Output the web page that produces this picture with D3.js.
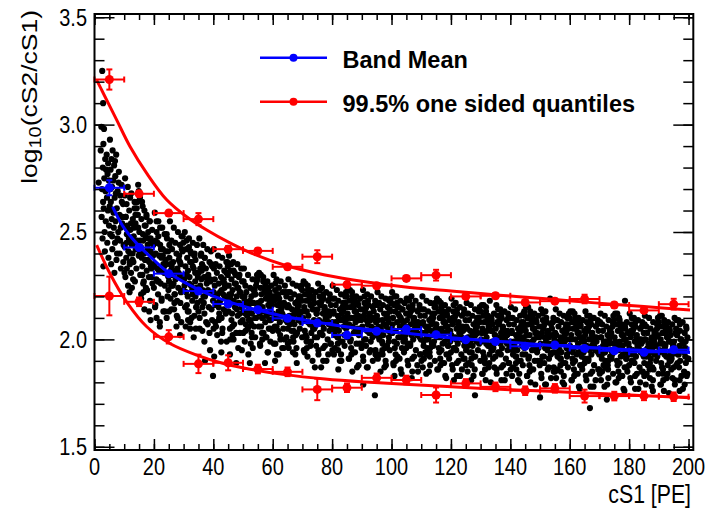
<!DOCTYPE html>
<html><head><meta charset="utf-8">
<script src="https://cdn.jsdelivr.net/npm/d3@7"></script>
<style>body{margin:0;background:#fff}svg{display:block}</style>
</head><body>
<svg id="chart" width="715" height="513"></svg>
<script>
// Bin centres in cS1 [PE] (each bin is 10 PE wide)
const binCenters = [5,15,25,35,45,55,65,75,85,95,105,115,125,135,145,155,165,175,185,195];
const binHalfWidth = 5;
// Band mean of log10(cS2/cS1) per bin
const meanValues = [2.706,2.428,2.306,2.225,2.165,2.138,2.098,2.076,2.020,2.038,2.048,2.022,1.998,1.990,1.968,1.974,1.958,1.947,1.940,1.952];
const meanErrors = [0.035,0.012,0.01,0.01,0.01,0.008,0.008,0.008,0.008,0.008,0.008,0.008,0.008,0.008,0.008,0.008,0.008,0.008,0.008,0.008];
// 99.5% one sided quantiles
const upperValues = [3.210,2.678,2.588,2.560,2.420,2.412,2.338,2.385,2.255,2.250,2.284,2.299,2.200,2.203,2.172,2.178,2.188,2.160,2.135,2.164];
const upperErrors = [0.047,0.012,0.012,0.028,0.015,0.012,0.012,0.03,0.012,0.012,0.012,0.025,0.012,0.012,0.012,0.012,0.02,0.012,0.012,0.025];
const lowerValues = [2.202,2.175,2.012,1.886,1.891,1.862,1.849,1.767,1.775,1.821,1.811,1.741,1.795,1.779,1.761,1.772,1.736,1.736,1.737,1.733];
const lowerErrors = [0.09,0.02,0.031,0.043,0.035,0.02,0.02,0.05,0.02,0.02,0.02,0.035,0.02,0.02,0.02,0.02,0.03,0.02,0.02,0.02];
// Fitted curves, sampled along cS1
const upperFit = [[0.74,3.207],[3.0,3.145],[7.5,3.021],[12.0,2.897],[17.6,2.773],[24.3,2.650],[31.0,2.571],[37.8,2.509],[45.6,2.449],[52.4,2.404],[64.1,2.345],[77.6,2.300],[91.1,2.268],[104,2.245],[120,2.225],[136.5,2.206],[153,2.188],[168.5,2.170],[185,2.153],[200.5,2.137]];
const lowerFit = [[0.74,2.439],[5.2,2.307],[10.8,2.175],[17.6,2.059],[25.4,1.981],[34.4,1.927],[43.4,1.888],[52.4,1.861],[64.1,1.836],[77.6,1.816],[91.1,1.802],[104.5,1.791],[120,1.780],[136.5,1.768],[153,1.758],[170,1.748],[185,1.738],[200.5,1.728]];
const meanFit = [[6.1,2.617],[9.7,2.524],[14.2,2.447],[19.8,2.372],[25,2.31],[35,2.232],[45,2.176],[55,2.137],[65,2.104],[77.6,2.074],[91,2.048],[104,2.030],[120,2.008],[136.5,1.990],[153,1.973],[168.5,1.961],[185,1.948],[200.5,1.939]];
// Events: [cS1, log10(cS2/cS1)]
const events = [
[2.6,3.25],[2.9,3.10],[2.3,2.99],[3.2,2.98],[3.0,2.91],[2.1,2.88],[4.1,2.86],[3.6,2.84],[4.6,2.82],[2.8,2.80],[3.9,2.79],[4.4,2.77],[3.3,2.75],[1.4,2.73],[4.8,2.74],[2.5,2.70],[3.7,2.69],[4.2,2.66],[2.9,2.64],[3.1,2.61],[4.5,2.60],[2.4,2.57],[3.8,2.55],[4.9,2.53],[3.4,2.50],[2.7,2.47],[4.3,2.45],[3.5,2.41],[4.7,2.38],[3.0,2.34],
[5.2,2.93],[6.1,2.88],[5.7,2.84],[7.3,2.86],[6.6,2.81],[5.4,2.79],[8.2,2.78],[7.0,2.76],[6.3,2.74],[9.1,2.72],[5.9,2.71],[7.8,2.69],[8.7,2.67],[6.8,2.66],[5.5,2.64],[9.6,2.63],[7.5,2.61],[6.2,2.60],[8.4,2.58],[5.8,2.56],[7.1,2.55],[9.3,2.54],[6.5,2.52],[8.0,2.50],[5.3,2.49],[7.7,2.47],[6.9,2.45],[9.8,2.44],[6.0,2.42],[8.5,2.40],[7.4,2.37],[5.6,2.35],[8.9,2.33],[6.7,2.31],[9.4,2.57],
[5.4,2.70],[8.8,2.52],[6.9,2.83],[7.6,2.40],[9.2,2.64],[5.9,2.48],[8.1,2.73],[6.4,2.59],[9.7,2.36],[7.2,2.68],[5.1,2.62],[8.6,2.46],
[10.3,2.75],[11.2,2.71],[10.8,2.63],[12.4,2.68],[13.5,2.64],[11.7,2.60],[14.2,2.61],[10.5,2.57],[12.9,2.56],[13.8,2.54],[11.0,2.53],[14.7,2.52],[12.1,2.51],[10.9,2.49],[13.2,2.48],[11.6,2.47],[14.4,2.46],[12.6,2.44],[10.2,2.43],[13.9,2.42],[11.4,2.41],[12.8,2.40],[14.9,2.39],[10.7,2.38],[13.1,2.36],[11.9,2.35],[14.1,2.33],[12.3,2.31],[10.4,2.29],[13.6,2.27],[11.3,2.25],[14.6,2.58],[12.0,2.66],[13.3,2.45],[11.8,2.22],
[10.2,2.67],[14.1,2.42],[12.3,2.54],[10.9,2.33],[13.5,2.61],[11.6,2.46],[14.7,2.72],[12.8,2.37],[10.5,2.57],[13.0,2.28],[11.2,2.51],[14.4,2.64],[12.0,2.40],[13.8,2.58],[10.8,2.45],[12.6,2.24],[14.9,2.69],[11.9,2.36],[13.3,2.52],[10.1,2.31],
[15.3,2.66],[16.2,2.62],[17.5,2.58],[15.8,2.56],[18.6,2.55],[16.9,2.53],[19.4,2.51],[15.1,2.50],[17.2,2.48],[18.1,2.47],[16.4,2.46],[19.0,2.45],[15.6,2.43],[17.8,2.42],[18.9,2.41],[16.7,2.40],[19.7,2.39],[15.9,2.38],[17.0,2.37],[18.4,2.36],[16.1,2.34],[19.2,2.33],[17.6,2.32],[15.4,2.30],[18.3,2.29],[16.6,2.27],[19.5,2.26],[17.3,2.24],[15.7,2.21],[18.7,2.18],[16.8,2.14],[18.9,2.09],[17.9,2.44],[16.3,2.49],[19.8,2.35],
[16.1,2.30],[18.6,2.55],[15.4,2.46],[17.7,2.23],[19.5,2.39],[16.8,2.60],[18.1,2.50],[15.7,2.19],[19.0,2.34],[17.2,2.53],[19.8,2.44],[16.4,2.26],[18.4,2.13],[15.3,2.40],[17.5,2.57],[19.2,2.29],[16.0,2.64],[18.9,2.47],[17.9,2.37],[16.5,2.22],
[20.3,2.59],[21.5,2.55],[22.8,2.52],[20.9,2.50],[23.6,2.49],[24.4,2.47],[21.2,2.45],[22.1,2.44],[23.0,2.42],[24.8,2.41],[20.6,2.40],[21.8,2.39],[22.5,2.38],[23.9,2.37],[24.1,2.35],[20.2,2.34],[21.1,2.33],[22.9,2.32],[23.4,2.31],[24.6,2.30],[20.8,2.28],[21.6,2.27],[22.3,2.26],[23.7,2.25],[24.9,2.23],[21.4,2.21],[22.6,2.19],[20.5,2.16],[23.2,2.13],[24.3,2.10],[20.9,2.10],[22.0,2.06],
[23.2,2.35],[20.6,2.46],[24.6,2.20],[22.1,2.52],[21.3,2.27],[23.7,2.13],[20.0,2.24],[22.4,2.42],[24.3,2.49],[21.7,2.32],[23.0,2.39],[20.9,2.55],[24.9,2.29],[22.6,2.18],[21.1,2.45],[23.5,2.34],[20.4,2.15],[24.0,2.41],[22.0,2.08],[21.5,2.48],
[25.4,2.55],[26.7,2.52],[28.1,2.50],[29.3,2.48],[25.9,2.46],[27.2,2.45],[28.8,2.44],[26.1,2.42],[29.7,2.41],[27.6,2.40],[25.2,2.38],[28.4,2.37],[26.5,2.36],[29.0,2.35],[27.9,2.33],[25.7,2.32],[26.9,2.31],[28.6,2.30],[29.5,2.29],[27.3,2.28],[25.1,2.27],[26.3,2.25],[28.2,2.24],[29.9,2.23],[27.0,2.21],[25.6,2.19],[28.9,2.17],[26.8,2.14],[27.7,2.11],[29.2,2.08],[28.8,2.02],[26.0,2.34],
[25.2,2.44],[29.1,2.22],[27.3,2.32],[25.9,2.14],[28.5,2.39],[26.6,2.26],[29.7,2.48],[27.8,2.18],[25.5,2.35],[28.0,2.10],[26.2,2.30],[29.4,2.42],[27.0,2.21],[28.8,2.36],[25.8,2.25],[27.6,2.06],[29.9,2.45],[26.9,2.17],[28.3,2.31],[25.1,2.13],
[30.4,2.50],[31.8,2.47],[33.1,2.45],[34.5,2.44],[30.9,2.42],[32.3,2.41],[33.7,2.40],[31.2,2.38],[34.0,2.37],[32.7,2.36],[30.6,2.34],[33.4,2.33],[31.5,2.32],[34.8,2.31],[32.0,2.29],[30.2,2.28],[33.9,2.27],[31.9,2.26],[32.5,2.25],[34.3,2.24],[30.8,2.22],[33.0,2.21],[31.4,2.20],[32.9,2.18],[34.6,2.17],[30.5,2.15],[31.7,2.13],[33.6,2.11],[32.2,2.08],[34.1,2.05],[32.2,2.05],[31.0,2.30],
[31.1,2.16],[33.6,2.39],[30.4,2.30],[32.7,2.10],[34.5,2.24],[31.8,2.43],[33.1,2.34],[30.7,2.06],[34.0,2.20],[32.2,2.36],[34.8,2.29],[31.4,2.13],[33.4,2.01],[30.3,2.25],[32.5,2.40],[34.2,2.15],[31.0,2.46],[33.9,2.31],[32.9,2.23],[31.5,2.09],
[35.3,2.47],[36.6,2.44],[38.0,2.42],[39.2,2.41],[35.8,2.39],[37.1,2.38],[38.7,2.36],[36.2,2.35],[39.6,2.34],[37.5,2.33],[35.1,2.31],[38.3,2.30],[36.9,2.29],[39.0,2.27],[37.8,2.26],[35.6,2.25],[36.4,2.23],[38.9,2.22],[39.8,2.21],[37.2,2.20],[35.9,2.18],[36.8,2.17],[38.5,2.15],[39.4,2.14],[37.0,2.12],[35.4,2.10],[38.1,2.07],[36.3,2.04],[38.9,1.95],[37.2,1.90],[39.9,1.83],[36.0,2.28],
[38.2,2.23],[35.6,2.33],[39.6,2.09],[37.1,2.38],[36.3,2.15],[38.7,2.03],[35.0,2.13],[37.4,2.29],[39.3,2.35],[36.7,2.20],[38.0,2.27],[35.9,2.40],[39.9,2.18],[37.6,2.08],[36.1,2.32],[38.5,2.22],[35.4,2.05],[39.0,2.28],[37.0,1.99],[36.5,2.34],
[40.2,2.42],[41.6,2.39],[43.0,2.38],[44.4,2.36],[40.8,2.35],[42.1,2.34],[43.7,2.32],[41.2,2.31],[44.9,2.30],[42.6,2.29],[40.5,2.28],[43.3,2.27],[41.9,2.26],[44.1,2.25],[42.8,2.23],[40.1,2.22],[41.4,2.21],[43.9,2.20],[44.7,2.19],[42.3,2.18],[40.9,2.16],[41.8,2.15],[43.5,2.14],[44.2,2.12],[42.0,2.10],[40.6,2.08],[43.1,2.05],[41.3,2.02],[44.5,1.99],[42.7,1.94],[40.3,1.92],[43.8,2.24],
[40.2,2.33],[44.1,2.13],[42.3,2.22],[40.9,2.06],[43.5,2.28],[41.6,2.17],[44.7,2.36],[42.8,2.10],[40.5,2.25],[43.0,2.03],[41.2,2.20],[44.4,2.31],[42.0,2.12],[43.8,2.26],[40.8,2.16],[42.6,1.99],[44.9,2.34],[41.9,2.09],[43.3,2.21],[40.1,2.05],
[45.3,2.39],[46.7,2.36],[48.1,2.35],[49.4,2.33],[45.8,2.32],[47.2,2.31],[48.8,2.30],[46.1,2.28],[49.7,2.27],[47.6,2.26],[45.2,2.25],[48.4,2.24],[46.5,2.23],[49.0,2.22],[47.9,2.20],[45.7,2.19],[46.9,2.18],[48.6,2.17],[49.5,2.16],[47.3,2.15],[45.1,2.13],[46.3,2.12],[48.2,2.11],[49.9,2.09],[47.0,2.07],[45.6,2.05],[48.9,2.03],[46.8,2.00],[45.6,1.93],[49.6,1.95],[47.7,1.89],[46.0,2.21],
[46.1,2.09],[48.6,2.29],[45.4,2.21],[47.7,2.03],[49.5,2.15],[46.8,2.32],[48.1,2.24],[45.7,2.00],[49.0,2.12],[47.2,2.26],[49.8,2.20],[46.4,2.06],[48.4,1.96],[45.3,2.17],[47.5,2.30],[49.2,2.08],[46.0,2.35],[48.9,2.22],[47.9,2.14],[46.5,2.02],
[50.3,2.33],[51.7,2.30],[53.2,2.28],[54.6,2.27],[50.8,2.25],[52.4,2.24],[53.9,2.23],[51.1,2.22],[54.2,2.21],[52.8,2.20],[50.5,2.18],[53.5,2.17],[51.9,2.16],[54.8,2.15],[52.1,2.14],[50.2,2.13],[53.0,2.12],[51.4,2.11],[54.4,2.10],[52.6,2.09],[50.9,2.07],[53.7,2.06],[51.6,2.05],[52.9,2.03],[54.1,2.01],[50.6,1.99],[53.3,1.96],[51.8,1.93],[52.3,1.89],
[50.2,2.27],[54.1,2.10],[52.3,2.18],[50.9,2.04],[53.5,2.23],[51.6,2.13],[54.7,2.30],[52.8,2.07],[50.5,2.20],[53.0,2.01],[51.2,2.16],[54.4,2.25],[52.0,2.09],[53.8,2.21],[50.8,2.12],[52.6,1.98],[54.9,2.28],[51.9,2.06],[53.3,2.17],[50.1,2.03],
[55.4,2.31],[56.8,2.29],[58.2,2.27],[59.5,2.25],[55.9,2.24],[57.3,2.23],[58.9,2.22],[56.2,2.21],[59.8,2.20],[57.7,2.19],[55.1,2.17],[58.5,2.16],[56.6,2.15],[59.1,2.14],[57.0,2.13],[55.6,2.12],[58.0,2.11],[56.4,2.10],[59.4,2.09],[57.5,2.08],[55.3,2.06],[58.7,2.05],[56.9,2.03],[57.9,2.01],[59.2,1.99],[55.8,1.97],[58.3,1.94],[57.4,1.89],[56.1,2.18],
[56.1,2.06],[58.6,2.24],[55.4,2.17],[57.7,2.01],[59.5,2.12],[56.8,2.27],[58.1,2.20],[55.7,1.98],[59.0,2.09],[57.2,2.22],[59.8,2.16],[56.4,2.03],[58.4,1.94],[55.3,2.13],[57.5,2.25],[59.2,2.05],[56.0,2.30],[58.9,2.18],[57.9,2.11],[56.5,2.00],
[60.3,2.30],[61.3,2.28],[62.7,2.27],[64.1,2.25],[60.8,2.23],[63.4,2.22],[61.9,2.21],[64.6,2.20],[62.2,2.19],[60.5,2.18],[63.8,2.17],[61.6,2.16],[64.9,2.15],[62.9,2.14],[60.1,2.12],[63.1,2.11],[61.0,2.10],[64.3,2.09],[62.4,2.08],[60.7,2.06],[63.6,2.05],[61.8,2.04],[62.5,2.02],[64.0,2.00],[60.9,1.98],[63.2,1.96],[61.4,1.93],[60.8,1.90],[62.0,2.13],
[63.2,2.12],[60.6,2.20],[64.6,2.01],[62.1,2.24],[61.3,2.06],[63.7,1.96],[60.0,2.04],[62.4,2.17],[64.3,2.22],[61.7,2.10],[63.0,2.15],[60.9,2.26],[64.9,2.08],[62.6,2.00],[61.1,2.19],[63.5,2.11],[60.4,1.98],[64.0,2.16],[62.0,1.93],[61.5,2.21],
[65.3,2.28],[66.7,2.26],[68.0,2.25],[69.4,2.24],[65.8,2.22],[67.2,2.21],[68.7,2.20],[66.1,2.19],[69.8,2.18],[67.6,2.17],[65.2,2.16],[68.4,2.15],[66.5,2.14],[69.1,2.13],[67.9,2.12],[65.6,2.11],[66.9,2.10],[68.6,2.09],[69.6,2.08],[67.3,2.07],[65.1,2.05],[66.3,2.04],[68.2,2.03],[69.9,2.01],[67.0,1.99],[65.4,1.96],[68.1,1.89],[66.8,1.94],[69.2,2.11],
[65.2,2.22],[69.1,2.05],[67.3,2.13],[65.9,1.99],[68.5,2.18],[66.6,2.08],[69.7,2.25],[67.8,2.02],[65.5,2.15],[68.0,1.96],[66.2,2.11],[69.4,2.20],[67.0,2.04],[68.8,2.16],[65.8,2.07],[67.6,1.93],[69.9,2.23],[66.9,2.01],[68.3,2.12],[65.1,1.98],
[70.4,2.27],[71.8,2.25],[73.1,2.23],[74.5,2.22],[70.9,2.21],[72.3,2.20],[73.7,2.19],[71.2,2.18],[74.0,2.17],[72.7,2.16],[70.6,2.15],[73.4,2.14],[71.5,2.13],[74.8,2.12],[72.0,2.11],[70.2,2.10],[73.9,2.09],[71.9,2.08],[72.5,2.07],[74.3,2.06],[70.8,2.04],[73.0,2.03],[71.4,2.01],[72.9,1.99],[74.6,1.97],[70.5,1.95],[71.7,1.92],[74.2,1.87],[73.6,2.05],
[71.1,2.02],[73.6,2.20],[70.4,2.13],[72.7,1.97],[74.5,2.08],[71.8,2.23],[73.1,2.16],[70.7,1.94],[74.0,2.05],[72.2,2.18],[74.8,2.12],[71.4,1.99],[73.4,1.90],[70.3,2.09],[72.5,2.21],[74.2,2.01],[71.0,2.26],[73.9,2.14],[72.9,2.07],[71.5,1.96],
[75.3,2.26],[76.6,2.24],[78.0,2.22],[79.2,2.21],[75.8,2.20],[77.1,2.19],[78.7,2.18],[76.2,2.17],[79.6,2.16],[77.5,2.15],[75.1,2.14],[78.3,2.13],[76.9,2.12],[79.0,2.11],[77.8,2.10],[75.6,2.09],[76.4,2.08],[78.9,2.07],[79.8,2.06],[77.2,2.05],[75.9,2.03],[76.8,2.02],[78.5,2.00],[79.4,1.98],[77.0,1.96],[75.4,1.93],[78.1,1.90],[76.3,1.87],[79.1,2.04],
[78.2,2.09],[75.6,2.17],[79.6,1.98],[77.1,2.21],[76.3,2.03],[78.7,1.93],[75.0,2.01],[77.4,2.14],[79.3,2.19],[76.7,2.07],[78.0,2.12],[75.9,2.23],[79.9,2.05],[77.6,1.97],[76.1,2.16],[78.5,2.08],[75.4,1.95],[79.0,2.13],[77.0,1.90],[76.5,2.18],
[80.2,2.25],[81.6,2.23],[83.0,2.21],[84.4,2.20],[80.8,2.19],[82.1,2.18],[83.7,2.17],[81.2,2.16],[84.9,2.15],[82.6,2.14],[80.5,2.13],[83.3,2.12],[81.9,2.11],[84.1,2.10],[82.8,2.09],[80.1,2.08],[81.4,2.07],[83.9,2.06],[84.7,2.05],[82.3,2.04],[80.9,2.02],[81.8,2.01],[83.5,1.99],[84.2,1.97],[82.0,1.95],[80.6,1.93],[83.1,1.90],[82.1,1.86],[84.5,2.08],
[80.2,2.19],[84.1,2.02],[82.3,2.10],[80.9,1.96],[83.5,2.15],[81.6,2.05],[84.7,2.22],[82.8,1.99],[80.5,2.12],[83.0,1.93],[81.2,2.08],[84.4,2.17],[82.0,2.01],[83.8,2.13],[80.8,2.04],[82.6,1.90],[84.9,2.20],[81.9,1.98],[83.3,2.09],[80.1,1.95],
[85.3,2.24],[86.7,2.22],[88.1,2.20],[89.4,2.19],[85.8,2.18],[87.2,2.17],[88.8,2.16],[86.1,2.15],[89.7,2.14],[87.6,2.13],[85.2,2.12],[88.4,2.11],[86.5,2.10],[89.0,2.09],[87.9,2.08],[85.7,2.07],[86.9,2.06],[88.6,2.05],[89.5,2.04],[87.3,2.03],[85.1,2.01],[86.3,2.00],[88.2,1.98],[89.9,1.96],[87.0,1.94],[85.6,1.91],[88.9,1.88],[86.8,1.85],[87.4,2.10],
[86.1,1.99],[88.6,2.17],[85.4,2.10],[87.7,1.94],[89.5,2.05],[86.8,2.20],[88.1,2.13],[85.7,1.91],[89.0,2.02],[87.2,2.15],[89.8,2.09],[86.4,1.96],[88.4,1.87],[85.3,2.06],[87.5,2.18],[89.2,1.98],[86.0,2.23],[88.9,2.11],[87.9,2.04],[86.5,1.93],
[90.4,2.23],[91.8,2.21],[93.1,2.20],[94.5,2.18],[90.9,2.17],[92.3,2.16],[93.7,2.15],[91.2,2.14],[94.0,2.13],[92.7,2.12],[90.6,2.11],[93.4,2.10],[91.5,2.09],[94.8,2.08],[92.0,2.07],[90.2,2.06],[93.9,2.05],[91.9,2.04],[92.5,2.03],[94.3,2.02],[90.8,2.00],[93.0,1.99],[91.4,1.97],[92.9,1.95],[94.6,1.93],[90.5,1.90],[91.7,1.87],[94.4,1.74],[90.5,1.79],[93.6,2.01],
[93.2,2.06],[90.6,2.14],[94.6,1.95],[92.1,2.18],[91.3,2.00],[93.7,1.90],[90.0,1.98],[92.4,2.11],[94.3,2.16],[91.7,2.04],[93.0,2.09],[90.9,2.20],[94.9,2.02],[92.6,1.94],[91.1,2.13],[93.5,2.05],[90.4,1.92],[94.0,2.10],[92.0,1.87],[91.5,2.15],
[95.3,2.22],[96.6,2.20],[98.0,2.19],[99.2,2.18],[95.8,2.17],[97.1,2.16],[98.7,2.15],[96.2,2.14],[99.6,2.13],[97.5,2.12],[95.1,2.11],[98.3,2.10],[96.9,2.09],[99.0,2.08],[97.8,2.07],[95.6,2.06],[96.4,2.05],[98.9,2.04],[99.8,2.03],[97.2,2.02],[95.9,2.00],[96.8,1.99],[98.5,1.97],[99.4,1.95],[97.0,1.93],[95.4,1.91],[98.1,1.88],[96.3,1.85],[99.1,2.01],
[95.2,2.16],[99.1,1.99],[97.3,2.07],[95.9,1.93],[98.5,2.12],[96.6,2.02],[99.7,2.19],[97.8,1.96],[95.5,2.09],[98.0,1.90],[96.2,2.05],[99.4,2.14],[97.0,1.98],[98.8,2.10],[95.8,2.01],[97.6,1.87],[99.9,2.17],[96.9,1.95],[98.3,2.06],[95.1,1.92],
[100.2,2.22],[101.6,2.20],[103.0,2.18],[104.4,2.17],[100.8,2.16],[102.1,2.15],[103.7,2.14],[101.2,2.13],[104.9,2.12],[102.6,2.11],[100.5,2.10],[103.3,2.09],[101.9,2.08],[104.1,2.07],[102.8,2.06],[100.1,2.05],[101.4,2.04],[103.9,2.03],[104.7,2.02],[102.3,2.01],[100.9,1.99],[101.8,1.98],[103.5,1.96],[104.2,1.94],[102.0,1.92],[100.6,1.89],[103.1,1.86],[101.0,1.83],[104.5,2.00],
[101.1,1.96],[103.6,2.14],[100.4,2.07],[102.7,1.91],[104.5,2.02],[101.8,2.17],[103.1,2.10],[100.7,1.88],[104.0,1.99],[102.2,2.12],[104.8,2.06],[101.4,1.93],[103.4,1.84],[100.3,2.03],[102.5,2.15],[104.2,1.95],[101.0,2.20],[103.9,2.08],[102.9,2.01],[101.5,1.90],
[105.1,2.19],[106.7,2.20],[108.1,2.18],[109.4,2.16],[105.8,2.15],[107.2,2.14],[108.8,2.13],[106.1,2.12],[109.7,2.11],[107.6,2.10],[105.2,2.09],[108.4,2.08],[106.5,2.07],[109.0,2.06],[107.9,2.05],[105.7,2.04],[106.9,2.03],[108.6,2.02],[109.5,2.01],[107.3,2.00],[105.4,1.98],[106.3,1.97],[108.2,1.95],[109.9,1.93],[107.0,1.91],[105.6,1.88],[108.9,1.85],[106.8,1.82],[107.4,2.04],
[108.2,2.04],[105.6,2.12],[109.6,1.93],[107.1,2.16],[106.3,1.98],[108.7,1.88],[105.0,1.96],[107.4,2.09],[109.3,2.14],[106.7,2.02],[108.0,2.07],[105.9,2.18],[109.9,2.00],[107.6,1.92],[106.1,2.11],[108.5,2.03],[105.4,1.90],[109.0,2.08],[107.0,1.85],[106.5,2.13],
[110.4,2.20],[111.8,2.18],[113.1,2.17],[114.5,2.15],[110.9,2.14],[112.3,2.13],[113.7,2.12],[111.2,2.11],[114.0,2.10],[112.7,2.09],[110.6,2.08],[113.4,2.07],[111.5,2.06],[114.8,2.05],[112.0,2.04],[110.2,2.03],[113.9,2.02],[111.9,2.01],[112.5,2.00],[114.3,1.99],[110.8,1.97],[113.0,1.96],[111.4,1.94],[112.9,1.92],[114.6,1.90],[110.5,1.87],[111.7,1.84],[113.6,1.98],[112.2,2.06],
[110.2,2.14],[114.1,1.97],[112.3,2.05],[110.9,1.91],[113.5,2.10],[111.6,2.00],[114.7,2.17],[112.8,1.94],[110.5,2.07],[113.0,1.88],[111.2,2.03],[114.4,2.12],[112.0,1.96],[113.8,2.08],[110.8,1.99],[112.6,1.85],[114.9,2.15],[111.9,1.93],[113.3,2.04],[110.1,1.90],
[115.3,2.19],[116.6,2.17],[118.0,2.16],[119.2,2.14],[115.8,2.13],[117.1,2.12],[118.7,2.11],[116.2,2.10],[119.6,2.09],[117.5,2.08],[115.1,2.07],[118.3,2.06],[116.9,2.05],[119.0,2.04],[117.8,2.03],[115.6,2.02],[116.4,2.01],[118.9,2.00],[119.8,1.99],[117.2,1.98],[115.9,1.96],[116.8,1.95],[118.5,1.93],[119.4,1.91],[117.0,1.89],[115.4,1.86],[118.1,1.83],[116.3,2.03],[119.1,1.97],
[116.1,1.94],[118.6,2.12],[115.4,2.05],[117.7,1.89],[119.5,2.00],[116.8,2.15],[118.1,2.08],[115.7,1.86],[119.0,1.97],[117.2,2.10],[119.8,2.04],[116.4,1.91],[118.4,1.82],[115.3,2.01],[117.5,2.13],[119.2,1.93],[116.0,2.18],[118.9,2.06],[117.9,1.99],[116.5,1.88],
[120.2,2.19],[121.6,2.17],[123.0,2.15],[124.4,2.14],[120.8,2.13],[122.1,2.12],[123.7,2.11],[121.2,2.10],[124.9,2.09],[122.6,2.08],[120.5,2.07],[123.3,2.06],[121.9,2.05],[124.1,2.04],[122.8,2.03],[120.1,2.02],[121.4,2.01],[123.9,2.00],[124.7,1.99],[122.3,1.98],[120.9,1.96],[121.8,1.95],[123.5,1.93],[124.2,1.91],[122.0,1.89],[120.6,1.86],[123.1,1.83],[121.0,1.81],[124.5,1.97],
[123.2,2.02],[120.6,2.10],[124.6,1.91],[122.1,2.14],[121.3,1.96],[123.7,1.86],[120.0,1.94],[122.4,2.07],[124.3,2.12],[121.7,2.00],[123.0,2.05],[120.9,2.16],[124.9,1.98],[122.6,1.90],[121.1,2.09],[123.5,2.01],[120.4,1.88],[124.0,2.06],[122.0,1.83],[121.5,2.11],
[125.3,2.17],[126.7,2.16],[128.1,2.14],[129.4,2.13],[125.8,2.12],[127.2,2.11],[128.8,2.10],[126.1,2.09],[129.7,2.08],[127.6,2.07],[125.2,2.06],[128.4,2.05],[126.5,2.04],[129.0,2.03],[127.9,2.02],[125.7,2.01],[126.9,2.00],[128.6,1.99],[129.5,1.98],[127.3,1.97],[125.1,1.95],[126.3,1.94],[128.2,1.92],[129.9,1.90],[127.0,1.88],[125.6,1.85],[128.1,1.74],[126.8,1.81],[127.4,2.03],
[125.2,2.12],[129.1,1.95],[127.3,2.03],[125.9,1.89],[128.5,2.08],[126.6,1.98],[129.7,2.15],[127.8,1.92],[125.5,2.05],[128.0,1.86],[126.2,2.01],[129.4,2.10],[127.0,1.94],[128.8,2.06],[125.8,1.97],[127.6,1.83],[129.9,2.13],[126.9,1.91],[128.3,2.02],[125.1,1.88],
[130.4,2.16],[131.8,2.15],[133.1,2.18],[134.5,2.12],[130.9,2.11],[132.3,2.10],[133.7,2.09],[131.2,2.08],[134.0,2.07],[132.7,2.06],[130.6,2.05],[133.4,2.04],[131.5,2.03],[134.8,2.02],[132.0,2.01],[130.2,2.00],[133.9,1.99],[131.9,1.98],[132.5,1.97],[134.3,1.96],[130.8,1.94],[133.0,1.93],[131.4,1.91],[132.9,1.89],[134.6,1.87],[130.5,1.84],[131.7,1.81],[133.6,1.95],[132.2,2.04],
[131.1,1.92],[133.6,2.10],[130.4,2.03],[132.7,1.87],[134.5,1.98],[131.8,2.13],[133.1,2.06],[130.7,1.84],[134.0,1.95],[132.2,2.08],[134.8,2.02],[131.4,1.89],[133.4,1.80],[130.3,1.99],[132.5,2.11],[134.2,1.91],[131.0,2.16],[133.9,2.04],[132.9,1.97],[131.5,1.86],
[135.3,2.16],[136.6,2.14],[138.0,2.13],[139.2,2.12],[135.8,2.11],[137.1,2.10],[138.7,2.09],[136.2,2.08],[139.6,2.07],[137.5,2.06],[135.1,2.05],[138.3,2.04],[136.9,2.03],[139.0,2.02],[137.8,2.01],[135.6,2.00],[136.4,1.99],[138.9,1.98],[139.8,1.97],[137.2,1.96],[135.9,1.94],[136.8,1.93],[138.5,1.91],[139.4,1.89],[137.0,1.87],[135.4,1.84],[138.1,1.81],[136.3,2.01],[139.1,1.95],
[138.2,2.00],[135.6,2.08],[139.6,1.89],[137.1,2.12],[136.3,1.94],[138.7,1.84],[135.0,1.92],[137.4,2.05],[139.3,2.10],[136.7,1.98],[138.0,2.03],[135.9,2.14],[139.9,1.96],[137.6,1.88],[136.1,2.07],[138.5,1.99],[135.4,1.86],[139.0,2.04],[137.0,1.81],[136.5,2.09],
[140.2,2.15],[141.6,2.14],[143.3,2.11],[144.4,2.12],[140.8,2.10],[142.1,2.09],[143.7,2.08],[141.2,2.07],[144.9,2.06],[142.6,2.05],[140.5,2.04],[143.0,2.03],[141.9,2.02],[144.1,2.01],[142.8,2.00],[140.1,1.99],[141.4,1.98],[143.9,1.97],[144.7,1.96],[142.3,1.95],[140.9,1.93],[141.8,1.92],[143.5,1.90],[144.2,1.88],[142.0,1.86],[140.6,1.83],[143.1,1.80],[141.0,1.96],[144.5,2.00],
[140.2,2.10],[144.1,1.93],[142.3,2.01],[140.9,1.87],[143.5,2.06],[141.6,1.96],[144.7,2.13],[142.8,1.90],[140.5,2.03],[143.0,1.84],[141.2,1.99],[144.4,2.08],[142.0,1.92],[143.8,2.04],[140.8,1.95],[142.6,1.81],[144.9,2.11],[141.9,1.89],[143.3,2.00],[140.1,1.86],
[145.3,2.15],[146.7,2.13],[148.1,2.12],[149.4,2.11],[145.8,2.10],[147.2,2.09],[148.8,2.08],[146.1,2.07],[149.7,2.06],[147.6,2.05],[145.2,2.04],[148.4,2.03],[146.5,2.02],[149.0,2.01],[147.9,2.00],[145.7,1.99],[146.9,1.98],[148.6,1.97],[149.5,1.96],[147.3,1.95],[145.1,1.93],[146.3,1.92],[148.2,1.90],[149.9,1.88],[147.0,1.86],[145.6,1.83],[150.0,1.73],[146.8,1.80],[147.4,1.99],
[146.1,1.91],[148.6,2.09],[145.4,2.02],[147.7,1.86],[149.5,1.97],[146.8,2.12],[148.1,2.05],[145.7,1.83],[149.0,1.94],[147.2,2.07],[149.8,2.01],[146.4,1.88],[148.4,1.79],[145.3,1.98],[147.5,2.10],[149.2,1.90],[146.0,2.15],[148.9,2.03],[147.9,1.96],[146.5,1.85],
[150.4,2.14],[151.8,2.13],[153.4,2.19],[154.5,2.10],[150.9,2.09],[152.3,2.08],[153.7,2.07],[151.2,2.06],[154.0,2.05],[152.7,2.04],[150.6,2.03],[153.1,2.02],[151.5,2.01],[154.8,2.00],[152.0,1.99],[150.2,1.98],[153.9,1.97],[151.9,1.96],[152.5,1.95],[154.3,1.94],[150.8,1.92],[153.0,1.91],[151.4,1.89],[152.9,1.87],[154.6,1.85],[150.5,1.82],[151.7,1.79],[153.6,1.93],[152.2,2.01],
[153.2,1.98],[150.6,2.06],[154.6,1.87],[152.1,2.10],[151.3,1.92],[153.7,1.82],[150.0,1.90],[152.4,2.03],[154.3,2.08],[151.7,1.96],[153.0,2.01],[150.9,2.12],[154.9,1.94],[152.6,1.86],[151.1,2.05],[153.5,1.97],[150.4,1.84],[154.0,2.02],[152.0,1.79],[151.5,2.07],
[155.3,2.14],[156.6,2.12],[158.0,2.11],[159.2,2.10],[155.8,2.09],[157.1,2.08],[158.7,2.07],[156.2,2.06],[159.6,2.05],[157.5,2.04],[155.1,2.03],[158.3,2.02],[156.9,2.01],[159.0,2.00],[157.8,1.99],[155.6,1.98],[156.4,1.97],[158.9,1.96],[159.8,1.95],[157.2,1.94],[155.9,1.92],[156.8,1.91],[158.5,1.89],[159.4,1.87],[157.0,1.85],[155.4,1.82],[158.1,1.79],[156.3,1.99],[159.1,1.93],
[155.2,2.09],[159.1,1.92],[157.3,2.00],[155.9,1.86],[158.5,2.05],[156.6,1.95],[159.7,2.12],[157.8,1.89],[155.5,2.02],[158.0,1.83],[156.2,1.98],[159.4,2.07],[157.0,1.91],[158.8,2.03],[155.8,1.94],[157.6,1.80],[159.9,2.10],[156.9,1.88],[158.3,1.99],[155.1,1.85],
[160.2,2.13],[161.6,2.12],[163.0,2.10],[164.4,2.09],[160.8,2.08],[162.1,2.07],[163.7,2.06],[161.2,2.05],[164.9,2.04],[162.6,2.03],[160.5,2.02],[163.3,2.01],[161.9,2.00],[164.1,1.99],[162.8,1.98],[160.1,1.97],[161.4,1.96],[163.9,1.95],[164.7,1.94],[162.3,1.93],[160.9,1.91],[161.8,1.90],[163.5,1.88],[164.2,1.86],[162.0,1.84],[160.6,1.81],[163.1,1.78],[161.0,1.94],[164.5,2.00],
[161.1,1.89],[163.6,2.07],[160.4,2.00],[162.7,1.84],[164.5,1.95],[161.8,2.10],[163.1,2.03],[160.7,1.81],[164.0,1.92],[162.2,2.05],[164.8,1.99],[161.4,1.86],[163.4,1.77],[160.3,1.96],[162.5,2.08],[164.2,1.88],[161.0,2.13],[163.9,2.01],[162.9,1.94],[161.5,1.83],
[165.3,2.13],[166.7,2.11],[168.1,2.10],[169.4,2.09],[165.8,2.08],[167.2,2.07],[168.8,2.06],[166.1,2.05],[169.7,2.04],[167.6,2.03],[165.2,2.02],[168.4,2.01],[166.5,2.00],[169.0,1.99],[167.9,1.98],[165.7,1.97],[166.9,1.96],[168.6,1.95],[169.5,1.94],[167.3,1.93],[165.1,1.91],[166.3,1.90],[168.2,1.88],[169.9,1.86],[167.0,1.84],[165.6,1.81],[166.8,1.68],[168.0,1.78],[167.4,1.97],
[168.2,1.97],[165.6,2.05],[169.6,1.86],[167.1,2.09],[166.3,1.91],[168.7,1.81],[165.0,1.89],[167.4,2.02],[169.3,2.07],[166.7,1.95],[168.0,2.00],[165.9,2.11],[169.9,1.93],[167.6,1.85],[166.1,2.04],[168.5,1.96],[165.4,1.83],[169.0,2.01],[167.0,1.78],[166.5,2.06],
[170.4,2.12],[171.8,2.11],[173.1,2.09],[174.5,2.08],[170.9,2.07],[172.3,2.06],[173.7,2.05],[171.2,2.04],[174.0,2.03],[172.7,2.02],[170.6,2.01],[173.4,2.00],[171.5,1.99],[174.8,1.98],[172.0,1.97],[170.2,1.96],[173.9,1.95],[171.9,1.94],[172.5,1.72],[174.3,1.93],[170.8,1.91],[173.0,1.90],[171.4,1.88],[172.9,1.86],[174.6,1.84],[170.5,1.81],[171.7,1.78],[173.6,1.92],[172.2,1.99],
[170.2,2.08],[174.1,1.91],[172.3,1.99],[170.9,1.85],[173.5,2.04],[171.6,1.94],[174.7,2.11],[172.8,1.88],[170.5,2.01],[173.0,1.82],[171.2,1.97],[174.4,2.06],[172.0,1.90],[173.8,2.02],[170.8,1.93],[172.6,1.79],[174.9,2.09],[171.9,1.87],[173.3,1.98],[170.1,1.84],
[175.3,2.12],[176.6,2.10],[178.6,2.18],[179.2,2.08],[175.8,2.07],[177.1,2.06],[178.7,2.05],[176.2,2.04],[179.6,2.03],[177.5,2.02],[175.1,2.01],[178.3,2.00],[176.9,1.99],[179.0,1.98],[177.8,1.97],[175.6,1.96],[176.4,1.95],[178.9,1.94],[179.8,1.93],[177.2,1.92],[175.9,1.90],[176.8,1.89],[178.5,1.87],[179.4,1.85],[177.0,1.83],[175.4,1.80],[178.1,1.77],[176.3,1.97],[179.1,1.91],
[176.1,1.88],[178.6,2.06],[175.4,1.99],[177.7,1.83],[179.5,1.94],[176.8,2.09],[178.1,2.02],[175.7,1.80],[179.0,1.91],[177.2,2.04],[179.8,1.98],[176.4,1.85],[178.4,1.76],[175.3,1.95],[177.5,2.07],[179.2,1.87],[176.0,2.12],[178.9,2.00],[177.9,1.93],[176.5,1.82],
[180.2,2.12],[181.6,2.10],[183.0,2.09],[184.4,2.08],[180.8,2.07],[182.1,2.06],[183.7,2.05],[181.2,2.04],[184.9,2.03],[182.6,2.02],[180.5,2.01],[183.3,2.00],[181.9,1.99],[184.1,1.98],[182.8,1.97],[180.1,1.96],[181.4,1.95],[183.9,1.94],[184.7,1.93],[182.3,1.92],[180.9,1.90],[181.8,1.89],[183.5,1.87],[184.2,1.85],[182.0,1.83],[180.6,1.80],[183.1,1.77],[181.0,1.93],[184.5,1.99],
[183.2,1.96],[180.6,2.04],[184.6,1.85],[182.1,2.08],[181.3,1.90],[183.7,1.80],[180.0,1.88],[182.4,2.01],[184.3,2.06],[181.7,1.94],[183.0,1.99],[180.9,2.10],[184.9,1.92],[182.6,1.84],[181.1,2.03],[183.5,1.95],[180.4,1.82],[184.0,2.00],[182.0,1.77],[181.5,2.05],
[185.3,2.11],[186.7,2.10],[188.1,2.08],[189.4,2.07],[185.8,2.06],[187.2,2.05],[188.8,2.04],[186.1,2.03],[189.7,2.02],[187.6,2.01],[185.2,2.00],[188.4,1.99],[186.5,1.98],[189.0,1.97],[187.9,1.96],[185.7,1.95],[186.9,1.94],[188.6,1.93],[189.5,1.92],[187.3,1.91],[185.1,1.89],[186.3,1.88],[188.2,1.86],[189.9,1.84],[187.0,1.82],[185.6,1.79],[188.0,1.76],[186.8,1.95],[187.4,2.00],
[185.2,2.07],[189.1,1.90],[187.3,1.98],[185.9,1.84],[188.5,2.03],[186.6,1.93],[189.7,2.10],[187.8,1.87],[185.5,2.00],[188.0,1.81],[186.2,1.96],[189.4,2.05],[187.0,1.89],[188.8,2.01],[185.8,1.92],[187.6,1.78],[189.9,2.08],[186.9,1.86],[188.3,1.97],[185.1,1.83],
[190.4,2.11],[191.8,2.09],[193.1,2.08],[194.5,2.07],[190.9,2.06],[192.3,2.05],[193.7,2.04],[191.2,2.03],[194.0,2.02],[192.7,2.01],[190.6,2.00],[193.4,1.99],[191.5,1.98],[194.8,1.97],[192.0,1.96],[190.2,1.95],[193.9,1.94],[191.9,1.93],[192.5,1.92],[194.3,1.91],[190.8,1.89],[193.0,1.88],[191.4,1.86],[192.9,1.84],[194.6,1.82],[190.5,1.79],[191.7,1.76],[193.6,1.90],[192.2,1.97],
[191.1,1.87],[193.6,2.05],[190.4,1.98],[192.7,1.82],[194.5,1.93],[191.8,2.08],[193.1,2.01],[190.7,1.79],[194.0,1.90],[192.2,2.03],[194.8,1.97],[191.4,1.84],[193.4,1.75],[190.3,1.94],[192.5,2.06],[194.2,1.86],[191.0,2.11],[193.9,1.99],[192.9,1.92],[191.5,1.81],
[195.3,2.10],[196.6,2.09],[198.0,2.08],[199.2,2.06],[195.8,2.05],[197.1,2.04],[198.7,2.03],[196.2,2.02],[199.6,2.01],[197.5,2.00],[195.1,1.99],[198.3,1.98],[196.9,1.97],[199.0,1.96],[197.8,1.95],[195.6,1.94],[196.4,1.93],[198.9,1.92],[199.8,1.91],[197.2,1.90],[195.9,1.88],[196.8,1.87],[198.5,1.85],[199.4,1.83],[197.0,1.81],[195.4,1.79],[198.1,1.77],[196.3,1.95],[199.1,1.89],
[198.2,1.95],[195.6,2.03],[199.6,1.84],[197.1,2.07],[196.3,1.89],[198.7,1.79],[195.0,1.87],[197.4,2.00],[199.3,2.05],[196.7,1.93],[198.0,1.98],[195.9,2.09],[199.9,1.91],[197.6,1.83],[196.1,2.02],[198.5,1.94],[195.4,1.81],[199.0,1.99],[197.0,1.76],[196.5,2.04]
];
const xTickLabels = [0,20,40,60,80,100,120,140,160,180,200];
const yTickLabels = [1.5,2.0,2.5,3.0,3.5];
const legendEntries = [
  {label: "Band Mean", color: "#0000ff"},
  {label: "99.5% one sided quantiles", color: "#ff0000"}
];

const FONT = "'Liberation Sans', Arial, Helvetica, sans-serif";
const svg = d3.select("#chart");
const x = d3.scaleLinear().domain([0, 201.6]).range([94.5, 693.3]);
const y = d3.scaleLinear().domain([1.485, 3.515]).range([450, 14]);
const [x0, x1] = x.range();
const [y0, y1] = y.range();

// scatter of events
svg.append("g").selectAll("circle").data(events).join("circle")
  .attr("cx", d => x(d[0])).attr("cy", d => y(d[1])).attr("r", 3.1).attr("fill", "#000");

// fitted curves
const line = d3.line().x(d => x(d[0])).y(d => y(d[1])).curve(d3.curveCatmullRom);
const curves = svg.append("g").attr("fill", "none").attr("stroke-width", 3);
curves.append("path").datum(upperFit).attr("d", line).attr("stroke", "#ff0000");
curves.append("path").datum(lowerFit).attr("d", line).attr("stroke", "#ff0000");
curves.append("path").datum(meanFit).attr("d", line).attr("stroke", "#0000ff");

// graph points with error bars
function drawGraph(values, errors, color) {
  const g = svg.append("g").attr("stroke", color).attr("stroke-width", 2);
  const pts = binCenters.map((c, i) => ({c, v: values[i], e: errors[i]}));
  const cap = 3;
  const p = g.selectAll("g").data(pts).join("g");
  p.append("line").attr("x1", d => x(d.c - binHalfWidth)).attr("x2", d => x(d.c + binHalfWidth))
    .attr("y1", d => y(d.v)).attr("y2", d => y(d.v));
  p.append("line").attr("x1", d => x(d.c - binHalfWidth)).attr("x2", d => x(d.c - binHalfWidth))
    .attr("y1", d => y(d.v) - cap).attr("y2", d => y(d.v) + cap);
  p.append("line").attr("x1", d => x(d.c + binHalfWidth)).attr("x2", d => x(d.c + binHalfWidth))
    .attr("y1", d => y(d.v) - cap).attr("y2", d => y(d.v) + cap);
  p.append("line").attr("x1", d => x(d.c)).attr("x2", d => x(d.c))
    .attr("y1", d => y(d.v + d.e)).attr("y2", d => y(d.v - d.e));
  p.append("line").attr("x1", d => x(d.c) - cap).attr("x2", d => x(d.c) + cap)
    .attr("y1", d => y(d.v + d.e)).attr("y2", d => y(d.v + d.e));
  p.append("line").attr("x1", d => x(d.c) - cap).attr("x2", d => x(d.c) + cap)
    .attr("y1", d => y(d.v - d.e)).attr("y2", d => y(d.v - d.e));
  p.append("circle").attr("cx", d => x(d.c)).attr("cy", d => y(d.v)).attr("r", 4.5)
    .attr("fill", color).attr("stroke", "none");
}
drawGraph(upperValues, upperErrors, "#ff0000");
drawGraph(lowerValues, lowerErrors, "#ff0000");
drawGraph(meanValues, meanErrors, "#0000ff");

// frame and inward ticks on all four sides
const xMinor = d3.range(0, 201, 5);
const yMinor = d3.range(15, 36).map(v => v / 10);
function tickAxis(axis, tx, ty) {
  const g = svg.append("g").attr("transform", `translate(${tx},${ty})`).call(axis);
  g.select(".domain").remove();
  g.selectAll("text").remove();
  g.selectAll("line").attr("stroke", "#000").attr("stroke-width", 1.5);
}
tickAxis(d3.axisLeft(y).tickValues(yMinor).tickSize(-10), x0, 0);
tickAxis(d3.axisLeft(y).tickValues(yTickLabels).tickSize(-20), x0, 0);
tickAxis(d3.axisRight(y).tickValues(yMinor).tickSize(-10), x1, 0);
tickAxis(d3.axisRight(y).tickValues(yTickLabels).tickSize(-20), x1, 0);
tickAxis(d3.axisBottom(x).tickValues(xMinor).tickSize(-6), 0, y0);
tickAxis(d3.axisBottom(x).tickValues(xTickLabels).tickSize(-11), 0, y0);
tickAxis(d3.axisTop(x).tickValues(xMinor).tickSize(-6), 0, y1);
tickAxis(d3.axisTop(x).tickValues(xTickLabels).tickSize(-11), 0, y1);
svg.append("rect").attr("x", x0).attr("y", y1).attr("width", x1 - x0).attr("height", y0 - y1)
  .attr("fill", "none").attr("stroke", "#000").attr("stroke-width", 2);

// tick labels
const squeeze = 0.85;
svg.append("g").selectAll("text").data(yTickLabels).join("text")
  .attr("transform", d => `translate(87,${y(d)}) scale(${squeeze},1)`)
  .attr("dy", "0.36em").attr("text-anchor", "end")
  .style("font", `23.5px ${FONT}`).text(d => d3.format(".1f")(d));
svg.append("g").selectAll("text").data(xTickLabels).join("text")
  .attr("transform", d => `translate(${x(d)},475) scale(${squeeze},1)`)
  .attr("text-anchor", "middle")
  .style("font", `23.5px ${FONT}`).text(d => d);

// axis titles
svg.append("text").attr("transform", `translate(691,503) scale(${squeeze},1)`)
  .attr("text-anchor", "end").style("font", `25px ${FONT}`).text("cS1 [PE]");
const yt = svg.append("text").attr("transform", `translate(37,10) rotate(-90) scale(1,${squeeze})`)
  .attr("text-anchor", "end").style("font", `26.5px ${FONT}`);
yt.append("tspan").text("log");
yt.append("tspan").attr("dy", 5).style("font-size", "20px").text("10");
yt.append("tspan").attr("dy", -5).text("(cS2/cS1)");

// legend
const lg = svg.append("g").selectAll("g").data(legendEntries).join("g")
  .attr("transform", (d, i) => `translate(0,${57.7 + i * 44})`);
lg.append("line").attr("x1", 260).attr("x2", 327).attr("stroke", d => d.color).attr("stroke-width", 2.6);
lg.append("circle").attr("cx", 293.5).attr("r", 4).attr("fill", d => d.color);
lg.append("text").attr("x", 342.5).attr("y", 9.8)
  .style("font", `bold 23.5px ${FONT}`).text(d => d.label);
</script>
</body></html>
